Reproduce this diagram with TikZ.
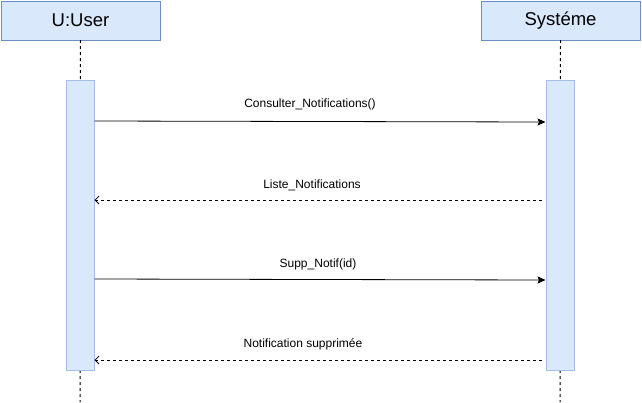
\documentclass[tikz,border=0pt]{standalone}
\usepackage{fontspec}
\setmainfont{Liberation Sans}
\usetikzlibrary{arrows.meta}
\definecolor{headfill}{HTML}{DAE8FC}
\definecolor{headline}{HTML}{6C8EBF}
\definecolor{actline}{HTML}{A3BFE8}

\begin{document}
\begin{tikzpicture}[x=1pt,y=-1pt,
    head/.style={draw=headline,fill=headfill,minimum width=159pt,minimum height=39pt,inner sep=0pt,font=\fontsize{18.5}{20}\selectfont},
    act/.style={draw=actline,fill=headfill,line width=1pt,minimum width=28pt,minimum height=290pt,inner sep=0pt},
    life/.style={dash pattern=on 3pt off 3pt,line width=1pt},
    msg/.style={-{Stealth[length=8pt,width=7pt,inset=1.5pt]},line width=0.8pt},
    ret/.style={-{Straight Barb[length=4pt,width=8pt]},dash pattern=on 3pt off 3pt,line width=0.8pt,shorten <=4pt},
    lbl/.style={font=\fontsize{12}{14}\selectfont,inner sep=0pt}]
    \useasboundingbox[fill=white] (0,0) rectangle (642,402);
    % lifelines
    \node[head] (user) at (80.5,20.5) {U:User};
    \node[head] (sys) at (560.5,20.5) {Systéme};
    \coordinate (uend) at (80,402);
    \coordinate (send) at (560,402);
    \draw[life] (user.south) -- (uend);
    \draw[life] (sys.south) -- (send);
    \node[act] (uact) at (80,225) {};
    \node[act] (sact) at (560,225) {};
    % messages
    \draw[msg] (uact.east |- 0,121) -- (sact.west |- 0,122);
    \node[lbl] (m1) at (310,104) {Consulter\_Notifications()};
    \draw[ret] (sact.west |- 0,200) -- (uact.east |- 0,200);
    \node[lbl] (m2) at (312,185) {Liste\_Notifications};
    \draw[msg] (uact.east |- 0,279) -- (sact.west |- 0,280);
    \node[lbl] (m3) at (318,264) {Supp\_Notif(id)};
    \draw[ret] (sact.west |- 0,360) -- (uact.east |- 0,360);
    \node[lbl] (m4) at (303,344) {Notification supprimée};
\end{tikzpicture}
\end{document}
